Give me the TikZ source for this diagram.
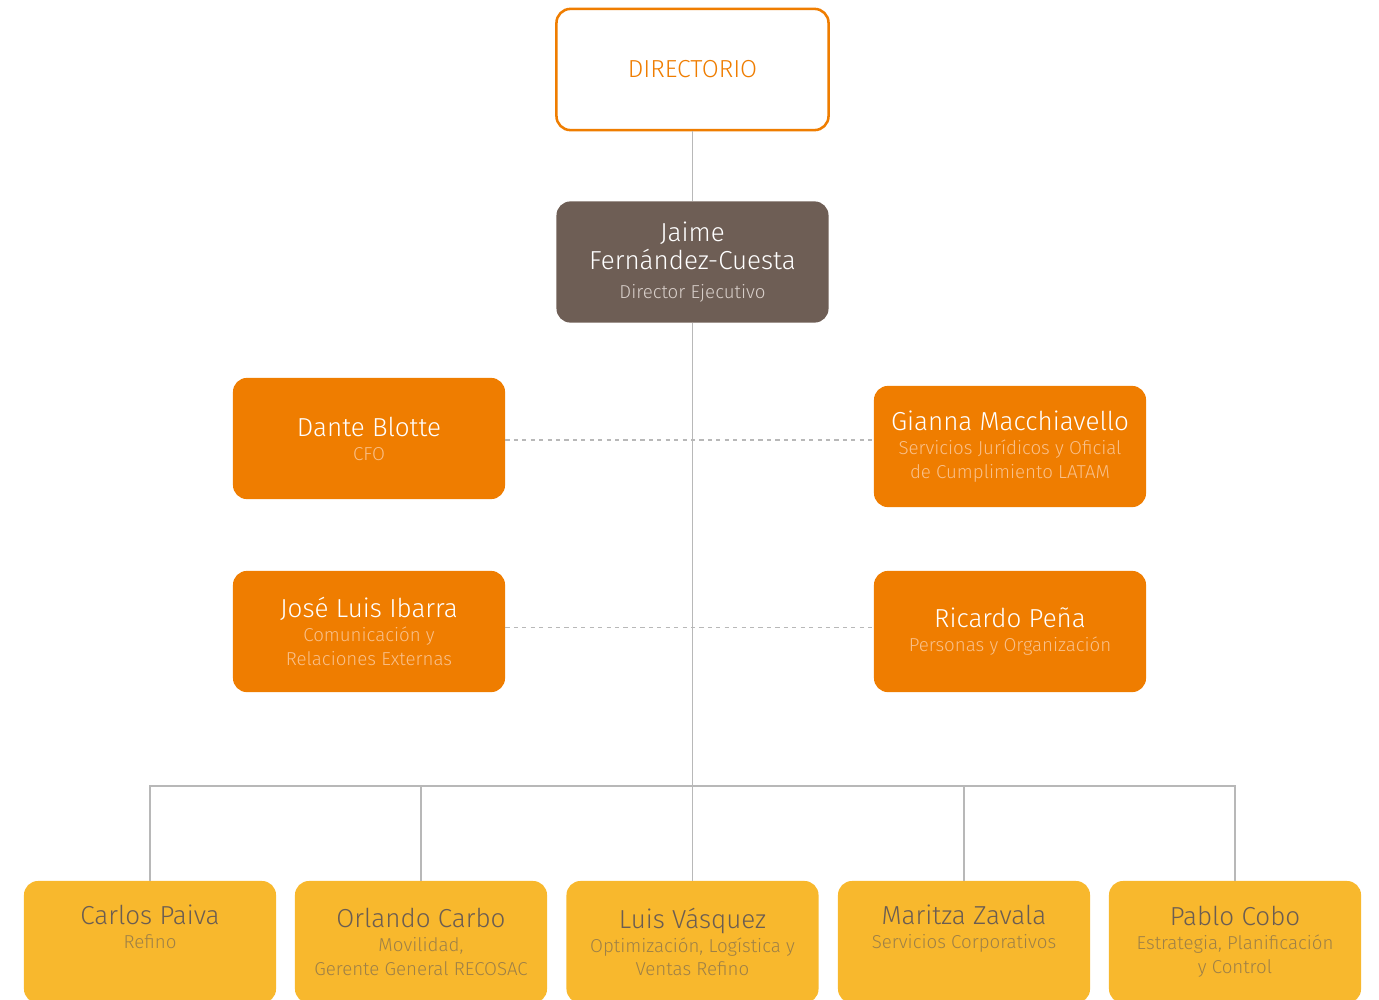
\documentclass[tikz,border=0pt]{standalone}
\usepackage{fontspec}
\setmainfont{Fira Sans Light}
\usepackage{xcolor}
\definecolor{OrgOrange}{HTML}{EF7D00}
\definecolor{OrgPeach}{HTML}{F9C08A}
\definecolor{OrgBrown}{HTML}{6E5E55}
\definecolor{OrgSand}{HTML}{D8CFCA}
\definecolor{OrgYellow}{HTML}{F8B82D}
\definecolor{OrgDark}{HTML}{6B5D52}
\definecolor{OrgMuted}{HTML}{9E8047}
\definecolor{OrgLine}{HTML}{B8B8B8}

\newcommand{\pname}[1]{{\fontsize{18.5}{17}\selectfont #1}}

\begin{document}
\begin{tikzpicture}[x=0.025cm, y=-0.025cm,
    orgbox/.style={rounded corners=0.35cm, inner sep=0pt, align=center,
      minimum width=6.8cm, minimum height=3.03cm, font=\fontsize{13.3}{17}\selectfont},
    boardbox/.style={orgbox, draw=OrgOrange, line width=1.8pt, fill=white,
      text=OrgOrange, font=\fontsize{17.5}{17}\selectfont},
    ceobox/.style={orgbox, fill=OrgBrown, text=OrgSand},
    staffbox/.style={orgbox, fill=OrgOrange, text=OrgPeach},
    unitbox/.style={orgbox, fill=OrgYellow, text=OrgMuted, minimum width=6.3cm, minimum height=3.05cm},
    orgline/.style={draw=OrgLine, line width=1pt}]
    \useasboundingbox (0,0) rectangle (1379,999);
    \clip (0,0) rectangle (1379,999);

    \node[boardbox] (dir) at (692.5,69.5) {DIRECTORIO};
    \node[ceobox] (ceo) at (692.5,262) {\textcolor{white}{\pname{Jaime}}\\[3pt]
        \textcolor{white}{\pname{Fernández-Cuesta}}\\[3pt] Director Ejecutivo};

    \node[staffbox] (dante) at (369,438.5) {\textcolor{white}{\pname{Dante Blotte}}\\ CFO};
    \node[staffbox] (gianna) at (1010,446.5) {\textcolor{white}{\pname{Gianna Macchiavello}}\\
        Servicios Jurídicos y Oficial\\ de Cumplimiento LATAM};
    \node[staffbox] (jose) at (369,631.5) {\textcolor{white}{\pname{José Luis Ibarra}}\\
        Comunicación y\\ Relaciones Externas};
    \node[staffbox] (ricardo) at (1010,631.5) {\textcolor{white}{\pname{Ricardo Peña}}\\
        Personas y Organización};

    \node[unitbox] (carlos) at (150,942) {\textcolor{OrgDark}{\pname{Carlos Paiva}}\\ Refino\\ \strut};
    \node[unitbox] (orlando) at (421,942) {\textcolor{OrgDark}{\pname{Orlando Carbo}}\\
        Movilidad,\\ Gerente General RECOSAC};
    \node[unitbox] (luis) at (692.5,942) {\textcolor{OrgDark}{\pname{Luis Vásquez}}\\
        Optimización, Logística y\\ Ventas Refino};
    \node[unitbox] (maritza) at (964,942) {\textcolor{OrgDark}{\pname{Maritza Zavala}}\\
        Servicios Corporativos\\ \strut};
    \node[unitbox] (pablo) at (1235,942) {\textcolor{OrgDark}{\pname{Pablo Cobo}}\\
        Estrategia, Planificación\\ y Control};

    % lines
    \coordinate (bus) at (692.5,786);
    \draw[orgline] (dir) -- (ceo);
    \draw[orgline] (ceo) -- (luis);
    \draw[orgline] (carlos.north) -- (carlos.north |- bus) -- (pablo.north |- bus) -- (pablo.north);
    \draw[orgline] (orlando.north) -- (orlando.north |- bus);
    \draw[orgline] (maritza.north) -- (maritza.north |- bus);
    \draw[orgline, dashed] ([yshift=-0.04cm]dante.east) -- ([yshift=-0.04cm]gianna.west |- dante.east);
    \draw[orgline, dashed] ([yshift=0.1cm]jose.east) -- ([yshift=0.1cm]ricardo.west);
\end{tikzpicture}
\end{document}
